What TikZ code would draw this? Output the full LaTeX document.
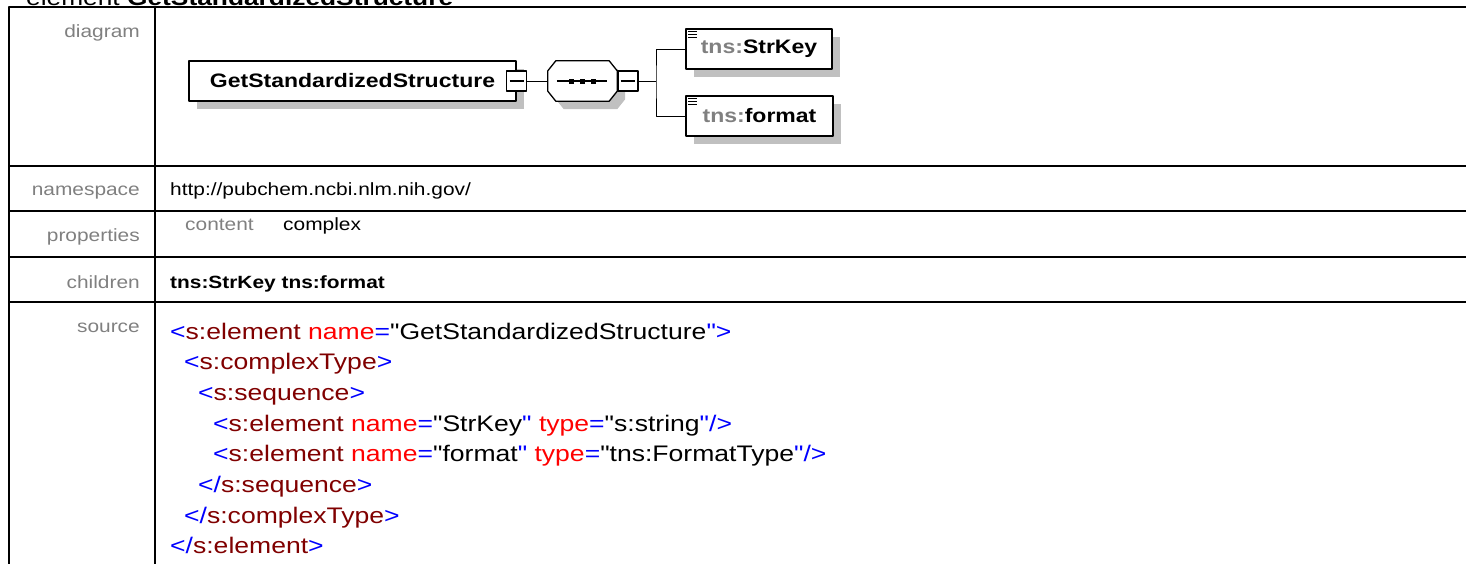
\documentclass[tikz,border=0pt]{standalone}
\usepackage{fontspec}
\setmainfont{Liberation Sans}[FakeStretch=1.18, Ligatures=TeXOff]
\definecolor{labelgray}{RGB}{128,128,128}
\definecolor{shadowgray}{RGB}{192,192,192}
\definecolor{tagblue}{RGB}{0,0,255}
\definecolor{tagname}{RGB}{128,0,0}
\definecolor{attrname}{RGB}{255,0,0}
\newcommand\tb[1]{\textcolor{tagblue}{#1}}
\newcommand\tn[1]{\textcolor{tagname}{#1}}
\newcommand\an[1]{\textcolor{attrname}{#1}}
\tikzset{
	rule/.style={line width=2.2pt},
	wire/.style={line width=1pt},
	lbl/.style={anchor=base east, inner sep=0, text=labelgray, font=\fontsize{17.7}{20}\selectfont},
	val/.style={anchor=base west, inner sep=0, font=\fontsize{17.7}{20}\selectfont},
	src/.style={anchor=base west, inner sep=0, font=\fontsize{22.5}{28}\selectfont},
	shadowed/.style={preaction={fill=shadowgray, transform canvas={shift={(8pt,-8pt)}}}},
	elem/.style={draw, line width=1.3pt, fill=white, shadowed, minimum height=40pt, inner sep=0, font=\bfseries\fontsize{19.5}{22}\selectfont},
	minusbox/.style={draw, line width=1.3pt, fill=white, minimum size=20pt, inner sep=0},
	seqbox/.style={minimum width=69pt, minimum height=40pt, inner sep=0},
	octa/.style={draw, line width=1.3pt, fill=white, shadowed}
}
\begin{document}
\begin{tikzpicture}[x=1pt, y=-1pt, line join=round]
	\useasboundingbox (0,0) rectangle (1466,563);
	\clip (0,0) rectangle (1466,563);
	% title, cut by the top edge
	\node[anchor=base west, inner sep=0, font=\fontsize{22.3}{24}\selectfont] (title) at (26,5.5) {element \textbf{GetStandardizedStructure}};
	% table
	\draw[rule] (1470,7) -- (9,7) -- (9,570);
	\draw[rule] (155,7) -- (155,570);
	\foreach \y in {166,211,257,302} \draw[rule] (9,\y) -- (1470,\y);
	\foreach \y/\t [count=\i] in {37/diagram,195/namespace,241/properties,288/children,332/source}
		\node[lbl] (lbl\i) at (140,\y) {\t};
	% diagram
	\node[elem, minimum width=327pt] (root) at (352.5,81) {GetStandardizedStructure};
	\node[minusbox] (m1) at (root.east) {};
	\node[seqbox] (seq) at (582.5,81) {};
	\path[octa] ([xshift=8pt]seq.north west) -- ([xshift=-8pt]seq.north east) -- ([yshift=-10pt]seq.north east)
		-- ([yshift=10pt]seq.south east) -- ([xshift=-8pt]seq.south east) -- ([xshift=8pt]seq.south west)
		-- ([yshift=10pt]seq.south west) -- ([yshift=-10pt]seq.north west) -- cycle;
	\node[minusbox, anchor=west] (m2) at (seq.east) {};
	\node[elem, minimum width=146pt] (strkey) at (759,49) {\textcolor{labelgray}{tns:}StrKey};
	\node[elem, minimum width=147pt] (fmt) at (759.5,116) {\textcolor{labelgray}{tns:}format};
	\foreach \m in {m1,m2} \draw[line width=1.3pt] ([xshift=3.5pt]\m.west) -- ([xshift=-3.5pt]\m.east);
	\draw[line width=1.3pt] ([xshift=9pt]seq.west) -- ([xshift=-10pt]seq.east);
	\foreach \d in {-11,0,11} \fill ([xshift=\d pt]seq.center) +(-2.5,-2.5) rectangle +(2.5,2.5);
	\foreach \c in {strkey,fmt}
		\foreach \d in {3,6,9} \draw[line width=1.3pt] ([xshift=3pt,yshift=-\d pt]\c.north west) -- ++(9,0);
	\draw[wire] (m1) -- (seq);
	\coordinate (fork) at (656,81);
	\draw[wire] (m2) -- (fork);
	\draw[wire] (strkey.west) -| (fork) |- (fmt.west);
	% values
	\node[val] (ns) at (170,195) {http://pubchem.ncbi.nlm.nih.gov/};
	\node[val, text=labelgray] (propkey) at (185,230) {content};
	\node[val] (propval) at (283,230) {complex};
	\node[val, font=\bfseries\fontsize{17.7}{20}\selectfont] (kids) at (170,288) {tns:StrKey tns:format};
	% source
	\node[src] (s1) at (170,339) {\tb{<}\tn{s:element} \an{name}\tb{=}"GetStandardizedStructure\tb{">}};
	\node[src] (s2) at (184,369.7) {\tb{<}\tn{s:complexType}\tb{>}};
	\node[src] (s3) at (198,400.4) {\tb{<}\tn{s:sequence}\tb{>}};
	\node[src] (s4) at (213,431.1) {\tb{<}\tn{s:element} \an{name}\tb{=}"StrKey\tb{"} \an{type}\tb{=}"s:string\tb{"/>}};
	\node[src] (s5) at (213,461.8) {\tb{<}\tn{s:element} \an{name}\tb{=}"format\tb{"} \an{type}\tb{=}"tns:FormatType\tb{"/>}};
	\node[src] (s6) at (198,492.5) {\tb{</}\tn{s:sequence}\tb{>}};
	\node[src] (s7) at (184,523.2) {\tb{</}\tn{s:complexType}\tb{>}};
	\node[src] (s8) at (170,553.9) {\tb{</}\tn{s:element}\tb{>}};
\end{tikzpicture}
\end{document}
